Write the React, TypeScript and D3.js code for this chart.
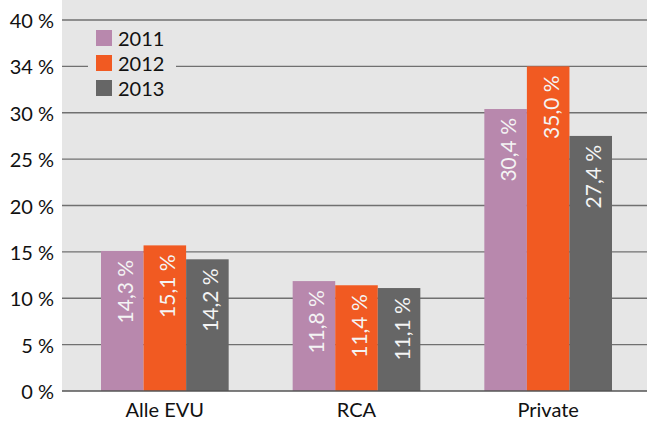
import React from 'react';
import * as d3 from 'd3';

const categories = ['Alle EVU', 'RCA', 'Private'];
const years = ['2011', '2012', '2013'];
// bar heights as drawn in the chart (percent)
const values2011 = [15.1, 11.85, 30.4];
const values2012 = [15.7, 11.4, 35.0];
const values2013 = [14.2, 11.1, 27.5];
// printed data labels
const labels2011 = ['14,3 %', '11,8 %', '30,4 %'];
const labels2012 = ['15,1 %', '11,4 %', '35,0 %'];
const labels2013 = ['14,2 %', '11,1 %', '27,4 %'];
const tickValues = [0, 5, 10, 15, 20, 25, 30, 35, 40];
const tickLabels = ['0 %', '5 %', '10 %', '15 %', '20 %', '25 %', '30 %', '34 %', '40 %'];
const colors = ['#b888ad', '#f15a22', '#666666'];

const W = 647;
const H = 421;
const plot = { left: 62, right: 647, top: 20, bottom: 391 };
const font = 'Lato, "Open Sans", sans-serif';

export default function App() {
  const series = [values2011, values2012, values2013];
  const labels = [labels2011, labels2012, labels2013];

  const y = d3.scaleLinear().domain([0, 40]).range([plot.bottom, plot.top]);
  const x0 = d3.scaleBand<string>().domain(categories).range([69, 644]);
  const gap = 32;
  const x1 = d3.scaleBand<string>().domain(years).range([gap, x0.bandwidth() - gap]);

  return (
    <svg width={W} height={H} style={{ position: 'absolute', left: 0, top: 0 }}>
      <rect x={plot.left} y={0} width={plot.right - plot.left} height={plot.bottom} fill="#e6e6e6" />
      {tickValues.map((t, i) => (
        <g key={t}>
          {t > 0 && (
            <line x1={plot.left} x2={plot.right} y1={y(t)} y2={y(t)} stroke="#707070" strokeWidth={1.3} />
          )}
          <text
            x={54}
            y={y(t)}
            textAnchor="end"
            dominantBaseline="central"
            fontFamily={font}
            fontSize={20}
            fill="#111"
          >
            {tickLabels[i]}
          </text>
        </g>
      ))}

      {categories.map((c, ci) => (
        <g key={c} transform={`translate(${x0(c)},0)`}>
          {years.map((yr, si) => {
            const v = series[si][ci];
            const bx = x1(yr)!;
            const bw = x1.bandwidth();
            const top = y(v);
            return (
              <g key={yr}>
                <rect x={bx} y={top} width={bw} height={y(0) - top} fill={colors[si]} />
                <text
                  transform={`translate(${bx + bw / 2 + 2},${top + 9}) rotate(-90)`}
                  textAnchor="end"
                  dominantBaseline="central"
                  fontFamily={font}
                  fontSize={21}
                  fill="#f4f4f4"
                >
                  {labels[si][ci]}
                </text>
              </g>
            );
          })}
          <text
            x={x0.bandwidth() / 2}
            y={417}
            textAnchor="middle"
            fontFamily={font}
            fontSize={20}
            fill="#111"
          >
            {c}
          </text>
        </g>
      ))}

      <line x1={plot.left} x2={plot.right} y1={y(0)} y2={y(0)} stroke="#555" strokeWidth={1.5} />

      <g>
        <rect x={88} y={26} width={88} height={76} fill="#e6e6e6" />
        {years.map((yr, i) => (
          <g key={yr} transform={`translate(96,${38 + i * 25})`}>
            <rect x={0} y={-8} width={16} height={16} fill={colors[i]} />
            <text x={22} y={0} dominantBaseline="central" fontFamily={font} fontSize={20} fill="#111">
              {yr}
            </text>
          </g>
        ))}
      </g>
    </svg>
  );
}
